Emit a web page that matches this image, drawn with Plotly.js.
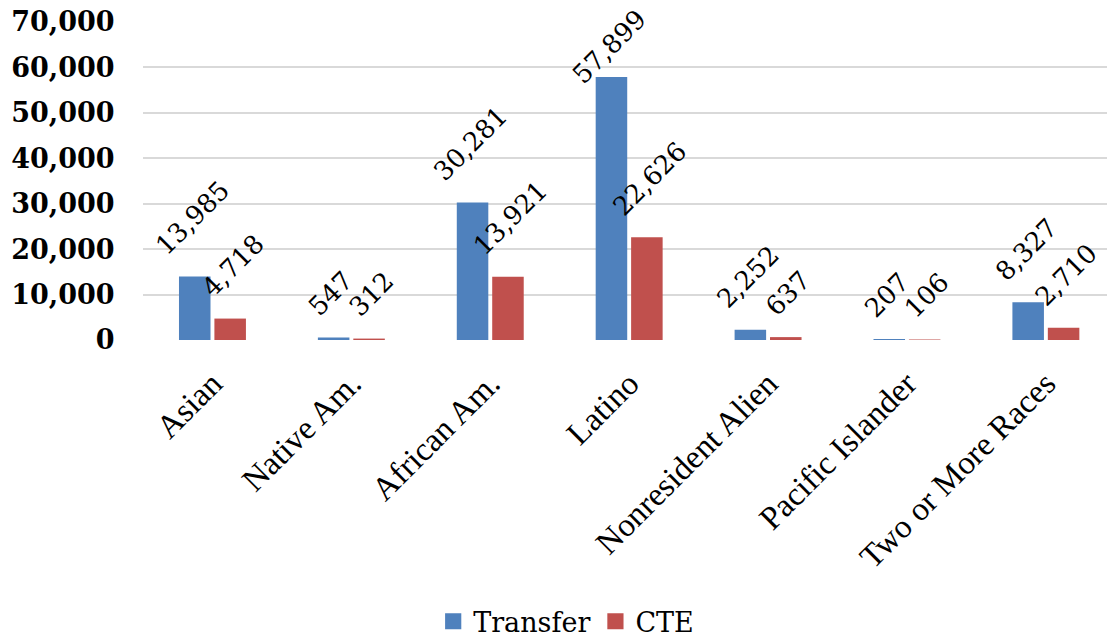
<!DOCTYPE html>
<html>
<head>
<meta charset="utf-8">
<script src="https://cdn.plot.ly/plotly-3.0.1.min.js"></script>
<style>html,body{margin:0;padding:0;background:#fff;overflow:hidden}</style>
</head>
<body>
<div id="chart" style="width:1107px;height:637px"></div>
<script>
var categories = ["Asian", "Native Am.", "African Am.", "Latino", "Nonresident Alien", "Pacific Islander", "Two or More Races"];
var transferValues = [13985, 547, 30281, 57899, 2252, 207, 8327];
var cteValues = [4718, 312, 13921, 22626, 637, 106, 2710];
var seriesNames = ["Transfer", "CTE"];
var yTickValues = [0, 10000, 20000, 30000, 40000, 50000, 60000, 70000];

var BLUE = "#4F81BD", RED = "#C0504D";
var SERIF_WIDE = "'DejaVu Serif', serif";
var SERIF_TIMES = "'Liberation Serif', 'Times New Roman', serif";
var LABEL_SIZE = 26;
var M = {l: 143, r: 0, t: 22, b: 297};
var W = 1107, H = 637;
var plotH = H - M.t - M.b;
var yMax = 70000;

var fmt = function (v) { return v.toLocaleString("en-US"); };

var traces = [
  {type: "bar", name: seriesNames[0], x: categories, y: transferValues,
   marker: {color: BLUE}, hoverinfo: "none"},
  {type: "bar", name: seriesNames[1], x: categories, y: cteValues,
   marker: {color: RED}, hoverinfo: "none"}
];

var cv = document.createElement("canvas").getContext("2d");
cv.font = LABEL_SIZE + "px " + SERIF_WIDE;
function rotH(s) {
  var w = cv.measureText(s).width;
  return (w + LABEL_SIZE) * Math.SQRT1_2;
}

var annotations = [];
var groupOffset = 0.145;
[transferValues, cteValues].forEach(function (vals, si) {
  vals.forEach(function (v, i) {
    var txt = fmt(v);
    var bh = rotH(txt);
    var barTopPx = M.t + (yMax - v) / yMax * plotH;
    var shift = 13;
    if (barTopPx - shift - bh < 10) shift = barTopPx - bh - 10;
    annotations.push({
      xref: "x", yref: "y", x: i + (si === 0 ? -groupOffset : groupOffset), y: v,
      text: txt, showarrow: false, textangle: -45,
      xanchor: "center", yanchor: "bottom", yshift: shift,
      font: {family: SERIF_WIDE, size: LABEL_SIZE, color: "#000"}
    });
  });
});

var layout = {
  width: W, height: H,
  margin: M,
  paper_bgcolor: "#fff", plot_bgcolor: "#fff",
  barmode: "group", bargap: 0.49, bargroupgap: 0.11,
  showlegend: true,
  legend: {orientation: "h", xref: "paper", x: 0.439, xanchor: "center",
           yref: "container", y: 0.024, yanchor: "middle",
           font: {family: SERIF_WIDE, size: 27, color: "#000"},
           itemwidth: 30, traceorder: "normal"},
  xaxis: {type: "category", range: [-0.5, 6.44], autorange: false,
          tickangle: -45, showgrid: false, zeroline: false, showline: false,
          ticks: "outside", ticklen: 10, tickcolor: "rgba(0,0,0,0)",
          tickfont: {family: SERIF_TIMES, size: 33, color: "#000"}},
  yaxis: {range: [0, yMax], autorange: false, tickvals: yTickValues,
          ticktext: yTickValues.map(fmt), showgrid: true, gridcolor: "#D9D9D9", gridwidth: 2,
          zeroline: false, showline: false, ticks: "outside", ticklen: 22,
          tickcolor: "rgba(0,0,0,0)",
          tickfont: {family: SERIF_WIDE, size: 27, color: "#000", weight: "bold"}},
  annotations: annotations
};

Plotly.newPlot("chart", traces, layout, {staticPlot: true}).then(function (gd) {
  var pts = gd.querySelectorAll(".legend .legendpoints path");
  pts.forEach(function (p) {
    var t = p.getAttribute("transform") || "";
    p.setAttribute("transform", t + " scale(1.35)");
  });
});
</script>
</body>
</html>
